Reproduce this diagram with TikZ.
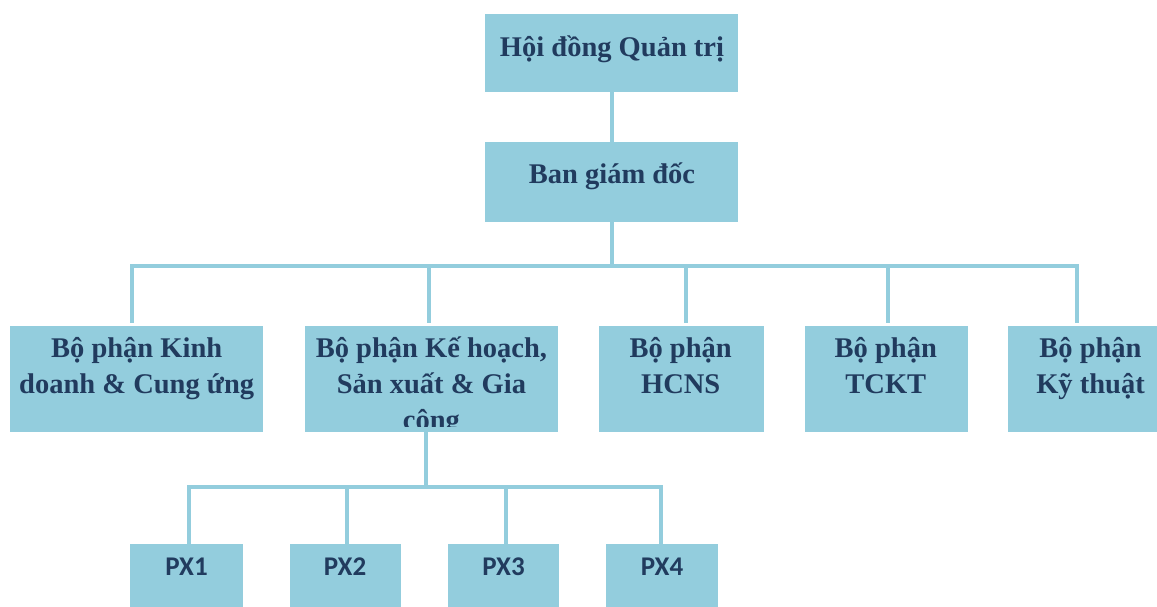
\documentclass[tikz,border=0pt]{standalone}
\usepackage{fontspec}
\setmainfont{Liberation Serif}
\newfontfamily\pxfont{Carlito}
\definecolor{boxc}{HTML}{93CDDD}
\definecolor{txtc}{HTML}{213B5E}
\begin{document}
\begin{tikzpicture}[x=1pt,y=-1pt,
  box/.style={fill=boxc, draw=none, inner sep=0pt, outer sep=0pt, anchor=north west},
  txt/.style={text=txtc, font=\fontsize{28.5}{36}\selectfont\bfseries, inner sep=0pt, anchor=base},
  pxt/.style={text=txtc, font=\fontsize{27}{32}\pxfont\bfseries, inner sep=0pt, anchor=base},
  conn/.style={draw=boxc, line width=4pt},
  bus/.style={draw=boxc, line width=4pt, line cap=rect},
]
\useasboundingbox (0,0) rectangle (1157,607);

% boxes
\node[box, minimum width=253pt, minimum height=78pt] (hd) at (485,14) {};
\node[box, minimum width=253pt, minimum height=80pt] (bgd) at (485,142) {};
\node[box, minimum width=253.4pt, minimum height=105.7pt] (b1) at (10,326) {};
\node[box, minimum width=253pt, minimum height=105.7pt] (b2) at (305,326) {};
\node[box, minimum width=164.5pt, minimum height=105.7pt] (b3) at (599,326) {};
\node[box, minimum width=163pt, minimum height=105.7pt] (b4) at (804.5,326) {};
\node[box, minimum width=149pt, minimum height=105.7pt] (b5) at (1008,326) {};
\node[box, minimum width=112.5pt, minimum height=63pt] (p1) at (130,544) {};
\node[box, minimum width=111pt, minimum height=63pt] (p2) at (289.5,544) {};
\node[box, minimum width=111pt, minimum height=63pt] (p3) at (448,544) {};
\node[box, minimum width=112pt, minimum height=63pt] (p4) at (606,544) {};

% texts
\node[txt] (hdt) at (612,56.7) {Hội đồng Quản trị};
\node[txt] (bgdt) at (612,183.3) {Ban giám đốc};
\node[txt] (b1t1) at (136.7,357.3) {Bộ phận Kinh};
\node[txt] (b1t2) at (136.7,393.3) {doanh \& Cung ứng};
\node[txt] (b2t1) at (431.4,357.3) {Bộ phận Kế hoạch,};
\node[txt] (b2t2) at (431.4,393.3) {Sản xuất \& Gia};
\begin{scope}
\clip (305,300) rectangle (558,426.7);
\node[txt] (b2t3) at (431.4,429.3) {công};
\end{scope}
\node[txt] (b3t1) at (680.7,357.3) {Bộ phận};
\node[txt] (b3t2) at (680.7,393.3) {HCNS};
\node[txt] (b4t1) at (885.8,357.3) {Bộ phận};
\node[txt] (b4t2) at (885.8,393.3) {TCKT};
\node[txt] (b5t1) at (1090.5,357.3) {Bộ phận};
\node[txt] (b5t2) at (1090.5,393.3) {Kỹ thuật};
\node[pxt] (p1t) at (186.5,575.7) {PX1};
\node[pxt] (p2t) at (345,575.7) {PX2};
\node[pxt] (p3t) at (503.5,575.7) {PX3};
\node[pxt] (p4t) at (662,575.7) {PX4};

% connectors
\draw[conn] (hd.south) -- (bgd.north);
\coordinate (busL) at (132,265.5);
\coordinate (busR) at (1077,265.5);
\coordinate (d2) at (429,265.5);
\coordinate (d3) at (686,265.5);
\coordinate (d4) at (888,265.5);
\draw[conn] (bgd.south) -- (bgd.south |- busL);
\draw[bus] (busL) -- (busR);
\draw[conn, shorten >=3pt] (busL) -- (busL |- b1.north);
\draw[conn, shorten >=3pt] (d2) -- (d2 |- b2.north);
\draw[conn, shorten >=3pt] (d3) -- (d3 |- b3.north);
\draw[conn, shorten >=3pt] (d4) -- (d4 |- b4.north);
\draw[conn, shorten >=3pt] (busR) -- (busR |- b5.north);

\coordinate (k) at (426,486.7);
\coordinate (sL) at (189,486.7);
\coordinate (sR) at (661,486.7);
\coordinate (s2) at (347,486.7);
\coordinate (s3) at (506,486.7);
\draw[conn] (k |- b2.south) -- (k);
\draw[bus] (sL) -- (sR);
\draw[conn] (sL) -- (sL |- p1.north);
\draw[conn] (s2) -- (s2 |- p2.north);
\draw[conn] (s3) -- (s3 |- p3.north);
\draw[conn] (sR) -- (sR |- p4.north);
\end{tikzpicture}
\end{document}
